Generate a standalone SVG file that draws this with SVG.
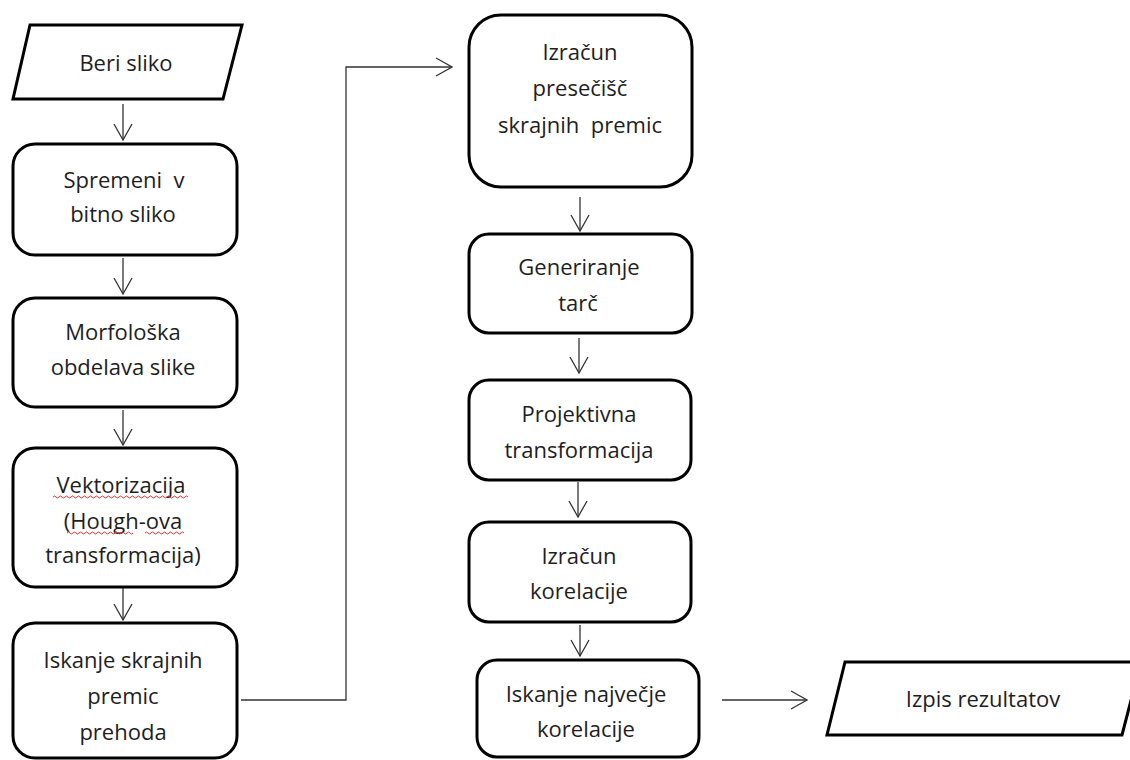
<svg xmlns="http://www.w3.org/2000/svg" width="1130" height="760" viewBox="0 0 1130 760">
<style>
.box{fill:#fff;stroke:#000;stroke-width:3}
.t{font-family:"Open Sans","Noto Sans","DejaVu Sans",sans-serif;font-size:22px;fill:#1e1e1e;text-anchor:middle}
.c{fill:none;stroke:#333;stroke-width:1.3}
.sq{fill:none;stroke:#d33;stroke-width:1}
</style>
<defs>
<marker id="ah" viewBox="0 0 20 20" refX="19" refY="10" markerWidth="20" markerHeight="20" markerUnits="userSpaceOnUse" orient="auto">
<path d="M3,1 L19,10 L3,19" fill="none" stroke="#333" stroke-width="1.3"/>
</marker>
</defs>
<rect width="1130" height="760" fill="#fff"/>
<g id="connectors">
<line class="c" x1="123" y1="104" x2="123" y2="140" marker-end="url(#ah)"/>
<line class="c" x1="123" y1="258" x2="123" y2="294" marker-end="url(#ah)"/>
<line class="c" x1="123" y1="410" x2="123" y2="445" marker-end="url(#ah)"/>
<line class="c" x1="123" y1="588" x2="123" y2="620" marker-end="url(#ah)"/>
<polyline class="c" points="241,700 346,700 346,67 452,67" marker-end="url(#ah)"/>
<line class="c" x1="580" y1="197" x2="580" y2="231" marker-end="url(#ah)"/>
<line class="c" x1="579" y1="338" x2="579" y2="373" marker-end="url(#ah)"/>
<line class="c" x1="578" y1="482" x2="578" y2="517" marker-end="url(#ah)"/>
<line class="c" x1="580" y1="625" x2="580" y2="656" marker-end="url(#ah)"/>
<line class="c" x1="722" y1="700" x2="807" y2="700" marker-end="url(#ah)"/>
</g>
<g id="n1">
<polygon class="box" points="30,25 242,25 223,99 13,99"/>
<text class="t" x="126" y="71">Beri sliko</text>
</g>
<g id="n2">
<rect class="box" x="13" y="144" width="224" height="111" rx="22"/>
<text class="t" x="124" y="188" xml:space="preserve">Spremeni  v</text>
<text class="t" x="123" y="222">bitno sliko</text>
</g>
<g id="n3">
<rect class="box" x="13" y="298" width="224" height="109" rx="22"/>
<text class="t" x="123" y="340">Morfološka</text>
<text class="t" x="123" y="375">obdelava slike</text>
</g>
<g id="n4">
<rect class="box" x="13" y="448" width="224" height="139" rx="22"/>
<text class="t" x="121" y="493">Vektorizacija</text>
<text class="t" x="123" y="529">(Hough-ova</text>
<text class="t" x="123" y="563">transformacija)</text>
<path class="sq" d="M53,497 q1.5,-2 3,0 t3,0 t3,0 t3,0 t3,0 t3,0 t3,0 t3,0 t3,0 t3,0 t3,0 t3,0 t3,0 t3,0 t3,0 t3,0 t3,0 t3,0 t3,0 t3,0 t3,0 t3,0 t3,0 t3,0 t3,0 t3,0 t3,0 t3,0 t3,0 t3,0 t3,0 t3,0 t3,0 t3,0 t3,0 t3,0 t3,0 t3,0 t3,0 t3,0 t3,0 t3,0 t3,0 t3,0 t3,0"/>
<path class="sq" d="M67,533 q1.5,-2 3,0 t3,0 t3,0 t3,0 t3,0 t3,0 t3,0 t3,0 t3,0 t3,0 t3,0 t3,0 t3,0 t3,0 t3,0 t3,0 t3,0 t3,0 t3,0 t3,0 t3,0 t3,0"/>
<path class="sq" d="M145,533 q1.5,-2 3,0 t3,0 t3,0 t3,0 t3,0 t3,0 t3,0 t3,0 t3,0 t3,0 t3,0 t3,0 t3,0"/>
</g>
<g id="n5">
<rect class="box" x="13" y="623" width="224" height="135" rx="22"/>
<text class="t" x="123" y="668">Iskanje skrajnih</text>
<text class="t" x="123" y="704">premic</text>
<text class="t" x="123" y="740">prehoda</text>
</g>
<g id="n6">
<rect class="box" x="469" y="15" width="223" height="172" rx="32"/>
<text class="t" x="580" y="60">Izračun</text>
<text class="t" x="580" y="96">presečišč</text>
<text class="t" x="580" y="133" xml:space="preserve">skrajnih  premic</text>
</g>
<g id="n7">
<rect class="box" x="469" y="234" width="223" height="99" rx="20"/>
<text class="t" x="579" y="275">Generiranje</text>
<text class="t" x="578" y="311">tarč</text>
</g>
<g id="n8">
<rect class="box" x="469" y="380" width="222" height="100" rx="20"/>
<text class="t" x="579" y="422">Projektivna</text>
<text class="t" x="579" y="458">transformacija</text>
</g>
<g id="n9">
<rect class="box" x="469" y="522" width="222" height="100" rx="20"/>
<text class="t" x="579" y="564">Izračun</text>
<text class="t" x="579" y="599">korelacije</text>
</g>
<g id="n10">
<rect class="box" x="477" y="660" width="222" height="97" rx="20"/>
<text class="t" x="586" y="702">Iskanje največje</text>
<text class="t" x="586" y="737">korelacije</text>
</g>
<g id="n11">
<polygon class="box" points="845,662 1141,662 1122,735 827,735"/>
<text class="t" x="983" y="707">Izpis rezultatov</text>
</g>
</svg>
